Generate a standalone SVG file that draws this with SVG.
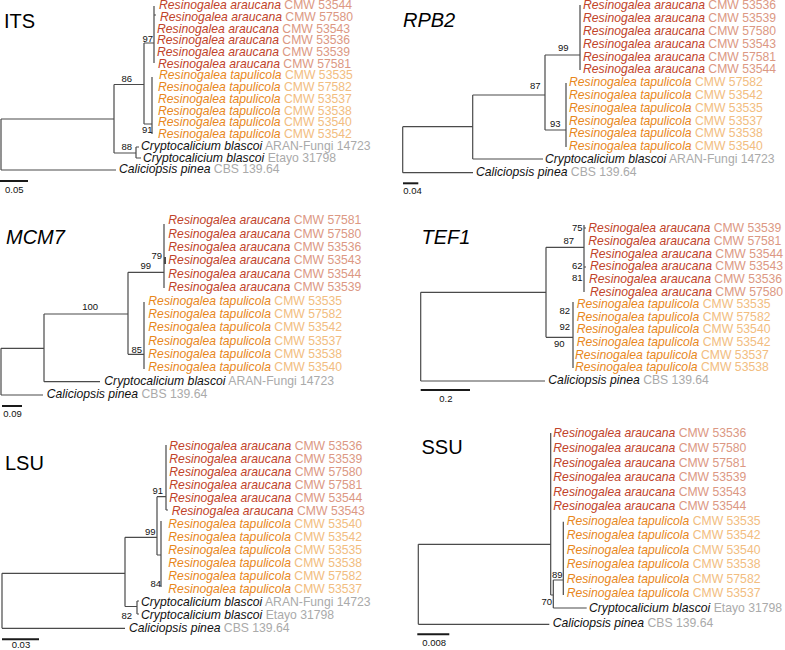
<svg xmlns="http://www.w3.org/2000/svg" width="785" height="650" viewBox="0 0 785 650">
<style>
text{font-family:"Liberation Sans",Arial,Helvetica,sans-serif}
.tr{fill:none;stroke:#4a4a4a;stroke-width:1.2}
.sb{fill:none;stroke:#1a1a1a;stroke-width:2}
.l{font-size:12.2px}
.a{fill:#c1432a;font-style:italic}
.ac{fill:#dc9883}
.p{fill:#e8871c;font-style:italic}
.pc{fill:#f2bd80}
.k{fill:#111;font-style:italic}
.g{fill:#aaaaaa}
.s{font-size:9.5px;fill:#111}
.ti{font-size:20px;fill:#000}
.it{font-style:italic}
</style>
<rect width="785" height="650" fill="#fff"/>

<!-- ITS -->
<g id="panel-its">
<text class="ti" x="4" y="28.3">ITS</text>
<g id="connectors-its" class="tr">
<path d="M1,119V170M1,119H114M1,170H116M114,84.5V153M114,84.5H144M114,153H136M136,147V158M136,147H139M136,158H141M144,43V124M144,43H154M144,124H152M154,6V63M154,15H156M152,77V134"/>
</g>
<path class="sb" d="M0,181H28"/>
<text class="s" x="5" y="192.5">0.05</text>
<g class="s"><text x="153" y="41.5" text-anchor="end">97</text><text x="132" y="82" text-anchor="end">86</text><text x="152.5" y="132.5" text-anchor="end">91</text><text x="132" y="150" text-anchor="end">88</text></g>
<g id="its-1"><text class="l" x="159" y="9"><tspan class="a">Resinogalea araucana</tspan><tspan class="ac"> CMW 53544</tspan></text></g>
<g id="its-2"><text class="l" x="160" y="20.7"><tspan class="a">Resinogalea araucana</tspan><tspan class="ac"> CMW 57580</tspan></text></g>
<g id="its-3"><text class="l" x="157" y="32.5"><tspan class="a">Resinogalea araucana</tspan><tspan class="ac"> CMW 53543</tspan></text></g>
<g id="its-4"><text class="l" x="157" y="44.2"><tspan class="a">Resinogalea araucana</tspan><tspan class="ac"> CMW 53536</tspan></text></g>
<g id="its-5"><text class="l" x="157" y="56"><tspan class="a">Resinogalea araucana</tspan><tspan class="ac"> CMW 53539</tspan></text></g>
<g id="its-6"><text class="l" x="158" y="67.7"><tspan class="a">Resinogalea araucana</tspan><tspan class="ac"> CMW 57581</tspan></text></g>
<g id="its-7"><text class="l" x="159" y="79.4"><tspan class="p">Resinogalea tapulicola</tspan><tspan class="pc"> CMW 53535</tspan></text></g>
<g id="its-8"><text class="l" x="158" y="91.2"><tspan class="p">Resinogalea tapulicola</tspan><tspan class="pc"> CMW 57582</tspan></text></g>
<g id="its-9"><text class="l" x="158" y="102.9"><tspan class="p">Resinogalea tapulicola</tspan><tspan class="pc"> CMW 53537</tspan></text></g>
<g id="its-10"><text class="l" x="158" y="114.7"><tspan class="p">Resinogalea tapulicola</tspan><tspan class="pc"> CMW 53538</tspan></text></g>
<g id="its-11"><text class="l" x="158" y="126.4"><tspan class="p">Resinogalea tapulicola</tspan><tspan class="pc"> CMW 53540</tspan></text></g>
<g id="its-12"><text class="l" x="158" y="138.1"><tspan class="p">Resinogalea tapulicola</tspan><tspan class="pc"> CMW 53542</tspan></text></g>
<g id="its-13"><text class="l" x="141" y="149.9"><tspan class="k">Cryptocalicium blascoi</tspan><tspan class="g"> ARAN-Fungi 14723</tspan></text></g>
<g id="its-14"><text class="l" x="143" y="161.6"><tspan class="k">Cryptocalicium blascoi</tspan><tspan class="g"> Etayo 31798</tspan></text></g>
<g id="its-15"><text class="l" x="119" y="173.4"><tspan class="k">Caliciopsis pinea</tspan><tspan class="g"> CBS 139.64</tspan></text></g>
</g>

<!-- RPB2 -->
<g id="panel-rpb2">
<text class="ti it" x="403" y="26.7">RPB2</text>
<g id="connectors-rpb2" class="tr">
<path d="M402.7,126.7V172.7M402.7,126.7H472.7M402.7,172.7H473M472.7,95V159M472.7,95H545M472.7,159H543M545,55V130M545,55H580M545,130H566M580,5V70M566,83V147"/>
</g>
<path class="sb" d="M403,183.3H418.3"/>
<text class="s" x="403.3" y="194">0.04</text>
<g class="s"><text x="568.5" y="51" text-anchor="end">99</text><text x="540.5" y="89" text-anchor="end">87</text><text x="560.5" y="127" text-anchor="end">93</text></g>
<g id="rpb2-1"><text class="l" x="583" y="9.3"><tspan class="a">Resinogalea araucana</tspan><tspan class="ac"> CMW 53536</tspan></text></g>
<g id="rpb2-2"><text class="l" x="583" y="22.1"><tspan class="a">Resinogalea araucana</tspan><tspan class="ac"> CMW 53539</tspan></text></g>
<g id="rpb2-3"><text class="l" x="583" y="34.9"><tspan class="a">Resinogalea araucana</tspan><tspan class="ac"> CMW 57580</tspan></text></g>
<g id="rpb2-4"><text class="l" x="583" y="47.7"><tspan class="a">Resinogalea araucana</tspan><tspan class="ac"> CMW 53543</tspan></text></g>
<g id="rpb2-5"><text class="l" x="583" y="60.5"><tspan class="a">Resinogalea araucana</tspan><tspan class="ac"> CMW 57581</tspan></text></g>
<g id="rpb2-6"><text class="l" x="583" y="73.3"><tspan class="a">Resinogalea araucana</tspan><tspan class="ac"> CMW 53544</tspan></text></g>
<g id="rpb2-7"><text class="l" x="569" y="86.1"><tspan class="p">Resinogalea tapulicola</tspan><tspan class="pc"> CMW 57582</tspan></text></g>
<g id="rpb2-8"><text class="l" x="569" y="98.9"><tspan class="p">Resinogalea tapulicola</tspan><tspan class="pc"> CMW 53542</tspan></text></g>
<g id="rpb2-9"><text class="l" x="569" y="111.7"><tspan class="p">Resinogalea tapulicola</tspan><tspan class="pc"> CMW 53535</tspan></text></g>
<g id="rpb2-10"><text class="l" x="569" y="124.5"><tspan class="p">Resinogalea tapulicola</tspan><tspan class="pc"> CMW 53537</tspan></text></g>
<g id="rpb2-11"><text class="l" x="569" y="137.3"><tspan class="p">Resinogalea tapulicola</tspan><tspan class="pc"> CMW 53538</tspan></text></g>
<g id="rpb2-12"><text class="l" x="569" y="150.1"><tspan class="p">Resinogalea tapulicola</tspan><tspan class="pc"> CMW 53540</tspan></text></g>
<g id="rpb2-13"><text class="l" x="545" y="162.9"><tspan class="k">Cryptocalicium blascoi</tspan><tspan class="g"> ARAN-Fungi 14723</tspan></text></g>
<g id="rpb2-14"><text class="l" x="476" y="175.7"><tspan class="k">Caliciopsis pinea</tspan><tspan class="g"> CBS 139.64</tspan></text></g>
</g>

<!-- MCM7 -->
<g id="panel-mcm7">
<text class="ti it" x="6" y="244.3">MCM7</text>
<g id="connectors-mcm7" class="tr">
<path d="M1,348.3V395M1,348.3H44M1,395H43M44,314V381.7M44,314H128M44,381.7H100M128,272.3V354.3M128,272.3H164M128,354.3H144M164,224V288M144,302V369"/>
<path d="M165,257V264" stroke-width="2"/>
</g>
<path class="sb" d="M2,406H22"/>
<text class="s" x="3.3" y="416.5">0.09</text>
<g class="s"><text x="162" y="258.5" text-anchor="end">79</text><text x="151" y="268.5" text-anchor="end">99</text><text x="98" y="310" text-anchor="end">100</text><text x="142" y="353" text-anchor="end">85</text></g>
<g id="mcm7-1"><text class="l" x="168.3" y="224.3"><tspan class="a">Resinogalea araucana</tspan><tspan class="ac"> CMW 57581</tspan></text></g>
<g id="mcm7-2"><text class="l" x="168.3" y="237.7"><tspan class="a">Resinogalea araucana</tspan><tspan class="ac"> CMW 57580</tspan></text></g>
<g id="mcm7-3"><text class="l" x="168.3" y="251"><tspan class="a">Resinogalea araucana</tspan><tspan class="ac"> CMW 53536</tspan></text></g>
<g id="mcm7-4"><text class="l" x="168.3" y="264.4"><tspan class="a">Resinogalea araucana</tspan><tspan class="ac"> CMW 53543</tspan></text></g>
<g id="mcm7-5"><text class="l" x="168.3" y="277.7"><tspan class="a">Resinogalea araucana</tspan><tspan class="ac"> CMW 53544</tspan></text></g>
<g id="mcm7-6"><text class="l" x="168.3" y="291.1"><tspan class="a">Resinogalea araucana</tspan><tspan class="ac"> CMW 53539</tspan></text></g>
<g id="mcm7-7"><text class="l" x="148.3" y="304.5"><tspan class="p">Resinogalea tapulicola</tspan><tspan class="pc"> CMW 53535</tspan></text></g>
<g id="mcm7-8"><text class="l" x="148.3" y="317.8"><tspan class="p">Resinogalea tapulicola</tspan><tspan class="pc"> CMW 57582</tspan></text></g>
<g id="mcm7-9"><text class="l" x="148.3" y="331.2"><tspan class="p">Resinogalea tapulicola</tspan><tspan class="pc"> CMW 53542</tspan></text></g>
<g id="mcm7-10"><text class="l" x="148.3" y="344.5"><tspan class="p">Resinogalea tapulicola</tspan><tspan class="pc"> CMW 53537</tspan></text></g>
<g id="mcm7-11"><text class="l" x="148.3" y="357.9"><tspan class="p">Resinogalea tapulicola</tspan><tspan class="pc"> CMW 53538</tspan></text></g>
<g id="mcm7-12"><text class="l" x="148.3" y="371.3"><tspan class="p">Resinogalea tapulicola</tspan><tspan class="pc"> CMW 53540</tspan></text></g>
<g id="mcm7-13"><text class="l" x="104.3" y="384.6"><tspan class="k">Cryptocalicium blascoi</tspan><tspan class="g"> ARAN-Fungi 14723</tspan></text></g>
<g id="mcm7-14"><text class="l" x="46.7" y="398"><tspan class="k">Caliciopsis pinea</tspan><tspan class="g"> CBS 139.64</tspan></text></g>
</g>

<!-- TEF1 -->
<g id="panel-tef1">
<text class="ti it" x="421.5" y="244.3">TEF1</text>
<g id="connectors-tef1" class="tr">
<path d="M420.7,292.3V381M420.7,292.3H546M420.7,381H545M546,247.3V337.3M546,247.3H584M546,337.3H573M584,225V292M573,302V368M584,228H586M584,267H586"/>
</g>
<path class="sb" d="M420.7,390H470"/>
<text class="s" x="439.3" y="401.5">0.2</text>
<g class="s"><text x="582.5" y="231" text-anchor="end">75</text><text x="574" y="244" text-anchor="end">87</text><text x="582.5" y="269" text-anchor="end">62</text><text x="582.5" y="281" text-anchor="end">81</text><text x="570" y="313.5" text-anchor="end">82</text><text x="570" y="329.5" text-anchor="end">92</text><text x="564.5" y="347" text-anchor="end">90</text></g>
<g id="tef1-1"><text class="l" x="588.3" y="232.3"><tspan class="a">Resinogalea araucana</tspan><tspan class="ac"> CMW 53539</tspan></text></g>
<g id="tef1-2"><text class="l" x="588.3" y="244.9"><tspan class="a">Resinogalea araucana</tspan><tspan class="ac"> CMW 57581</tspan></text></g>
<g id="tef1-3"><text class="l" x="590" y="257.6"><tspan class="a">Resinogalea araucana</tspan><tspan class="ac"> CMW 53544</tspan></text></g>
<g id="tef1-4"><text class="l" x="590" y="270.2"><tspan class="a">Resinogalea araucana</tspan><tspan class="ac"> CMW 53543</tspan></text></g>
<g id="tef1-5"><text class="l" x="589" y="282.9"><tspan class="a">Resinogalea araucana</tspan><tspan class="ac"> CMW 53536</tspan></text></g>
<g id="tef1-6"><text class="l" x="590" y="295.5"><tspan class="a">Resinogalea araucana</tspan><tspan class="ac"> CMW 57580</tspan></text></g>
<g id="tef1-7"><text class="l" x="576.7" y="308.1"><tspan class="p">Resinogalea tapulicola</tspan><tspan class="pc"> CMW 53535</tspan></text></g>
<g id="tef1-8"><text class="l" x="576.7" y="320.8"><tspan class="p">Resinogalea tapulicola</tspan><tspan class="pc"> CMW 57582</tspan></text></g>
<g id="tef1-9"><text class="l" x="576.7" y="333.4"><tspan class="p">Resinogalea tapulicola</tspan><tspan class="pc"> CMW 53540</tspan></text></g>
<g id="tef1-10"><text class="l" x="576.7" y="346.1"><tspan class="p">Resinogalea tapulicola</tspan><tspan class="pc"> CMW 53542</tspan></text></g>
<g id="tef1-11"><text class="l" x="575" y="358.7"><tspan class="p">Resinogalea tapulicola</tspan><tspan class="pc"> CMW 53537</tspan></text></g>
<g id="tef1-12"><text class="l" x="575" y="371.3"><tspan class="p">Resinogalea tapulicola</tspan><tspan class="pc"> CMW 53538</tspan></text></g>
<g id="tef1-13"><text class="l" x="548.3" y="384"><tspan class="k">Caliciopsis pinea</tspan><tspan class="g"> CBS 139.64</tspan></text></g>
</g>

<!-- LSU -->
<g id="panel-lsu">
<text class="ti" x="5" y="470">LSU</text>
<g id="connectors-lsu" class="tr">
<path d="M2,573.3V628.3M2,573.3H125M2,628.3H125M125,537.3V606.5M125,537.3H157M125,606.5H137M137,601V614M137,601H139M137,614H139M157,496.7V555M157,496.7H166M157,555H161M166,445V510M166,510H168M161,521V587"/>
</g>
<path class="sb" d="M2,639.3H39"/>
<text class="s" x="11.7" y="647.5">0.03</text>
<g class="s"><text x="163" y="493.5" text-anchor="end">91</text><text x="155.5" y="534.5" text-anchor="end">99</text><text x="161" y="587" text-anchor="end">84</text><text x="132" y="618.5" text-anchor="end">82</text></g>
<g id="lsu-1"><text class="l" x="169.3" y="450"><tspan class="a">Resinogalea araucana</tspan><tspan class="ac"> CMW 53536</tspan></text></g>
<g id="lsu-2"><text class="l" x="169.3" y="463"><tspan class="a">Resinogalea araucana</tspan><tspan class="ac"> CMW 53539</tspan></text></g>
<g id="lsu-3"><text class="l" x="169.3" y="476"><tspan class="a">Resinogalea araucana</tspan><tspan class="ac"> CMW 57580</tspan></text></g>
<g id="lsu-4"><text class="l" x="169.3" y="488.9"><tspan class="a">Resinogalea araucana</tspan><tspan class="ac"> CMW 57581</tspan></text></g>
<g id="lsu-5"><text class="l" x="169.3" y="501.9"><tspan class="a">Resinogalea araucana</tspan><tspan class="ac"> CMW 53544</tspan></text></g>
<g id="lsu-6"><text class="l" x="171.7" y="514.9"><tspan class="a">Resinogalea araucana</tspan><tspan class="ac"> CMW 53543</tspan></text></g>
<g id="lsu-7"><text class="l" x="168.3" y="527.9"><tspan class="p">Resinogalea tapulicola</tspan><tspan class="pc"> CMW 53540</tspan></text></g>
<g id="lsu-8"><text class="l" x="168.3" y="540.9"><tspan class="p">Resinogalea tapulicola</tspan><tspan class="pc"> CMW 53542</tspan></text></g>
<g id="lsu-9"><text class="l" x="168.3" y="553.8"><tspan class="p">Resinogalea tapulicola</tspan><tspan class="pc"> CMW 53535</tspan></text></g>
<g id="lsu-10"><text class="l" x="168.3" y="566.8"><tspan class="p">Resinogalea tapulicola</tspan><tspan class="pc"> CMW 53538</tspan></text></g>
<g id="lsu-11"><text class="l" x="168.3" y="579.8"><tspan class="p">Resinogalea tapulicola</tspan><tspan class="pc"> CMW 57582</tspan></text></g>
<g id="lsu-12"><text class="l" x="168.3" y="592.8"><tspan class="p">Resinogalea tapulicola</tspan><tspan class="pc"> CMW 53537</tspan></text></g>
<g id="lsu-13"><text class="l" x="141" y="605.8"><tspan class="k">Cryptocalicium blascoi</tspan><tspan class="g"> ARAN-Fungi 14723</tspan></text></g>
<g id="lsu-14"><text class="l" x="141" y="618.7"><tspan class="k">Cryptocalicium blascoi</tspan><tspan class="g"> Etayo 31798</tspan></text></g>
<g id="lsu-15"><text class="l" x="129" y="631.7"><tspan class="k">Caliciopsis pinea</tspan><tspan class="g"> CBS 139.64</tspan></text></g>
</g>

<!-- SSU -->
<g id="panel-ssu">
<text class="ti" x="421.5" y="454">SSU</text>
<g id="connectors-ssu" class="tr">
<path d="M418.3,544.3V624.3M418.3,544.3H550.7M418.3,624.3H549.3M550.7,433V595M550.7,595H553.3M553.3,580V608M553.3,580H563.3M553.3,608H586.7M563.3,521.7V595"/>
</g>
<path class="sb" d="M417.3,634.3H449.3"/>
<text class="s" x="422.3" y="646">0.008</text>
<g class="s"><text x="562.5" y="577.5" text-anchor="end">89</text><text x="552" y="604.5" text-anchor="end">70</text></g>
<g id="ssu-1"><text class="l" x="553.3" y="437.3"><tspan class="a">Resinogalea araucana</tspan><tspan class="ac"> CMW 53536</tspan></text></g>
<g id="ssu-2"><text class="l" x="553.3" y="451.9"><tspan class="a">Resinogalea araucana</tspan><tspan class="ac"> CMW 57580</tspan></text></g>
<g id="ssu-3"><text class="l" x="553.3" y="466.5"><tspan class="a">Resinogalea araucana</tspan><tspan class="ac"> CMW 57581</tspan></text></g>
<g id="ssu-4"><text class="l" x="553.3" y="481"><tspan class="a">Resinogalea araucana</tspan><tspan class="ac"> CMW 53539</tspan></text></g>
<g id="ssu-5"><text class="l" x="553.3" y="495.5"><tspan class="a">Resinogalea araucana</tspan><tspan class="ac"> CMW 53543</tspan></text></g>
<g id="ssu-6"><text class="l" x="553.3" y="510"><tspan class="a">Resinogalea araucana</tspan><tspan class="ac"> CMW 53544</tspan></text></g>
<g id="ssu-7"><text class="l" x="566.7" y="524.6"><tspan class="p">Resinogalea tapulicola</tspan><tspan class="pc"> CMW 53535</tspan></text></g>
<g id="ssu-8"><text class="l" x="566.7" y="539.1"><tspan class="p">Resinogalea tapulicola</tspan><tspan class="pc"> CMW 53542</tspan></text></g>
<g id="ssu-9"><text class="l" x="566.7" y="553.7"><tspan class="p">Resinogalea tapulicola</tspan><tspan class="pc"> CMW 53540</tspan></text></g>
<g id="ssu-10"><text class="l" x="566.7" y="568.2"><tspan class="p">Resinogalea tapulicola</tspan><tspan class="pc"> CMW 53538</tspan></text></g>
<g id="ssu-11"><text class="l" x="566.7" y="582.7"><tspan class="p">Resinogalea tapulicola</tspan><tspan class="pc"> CMW 57582</tspan></text></g>
<g id="ssu-12"><text class="l" x="566.7" y="597.3"><tspan class="p">Resinogalea tapulicola</tspan><tspan class="pc"> CMW 53537</tspan></text></g>
<g id="ssu-13"><text class="l" x="589" y="612.3"><tspan class="k">Cryptocalicium blascoi</tspan><tspan class="g"> Etayo 31798</tspan></text></g>
<g id="ssu-14"><text class="l" x="552.7" y="627.3"><tspan class="k">Caliciopsis pinea</tspan><tspan class="g"> CBS 139.64</tspan></text></g>
</g>
</svg>
